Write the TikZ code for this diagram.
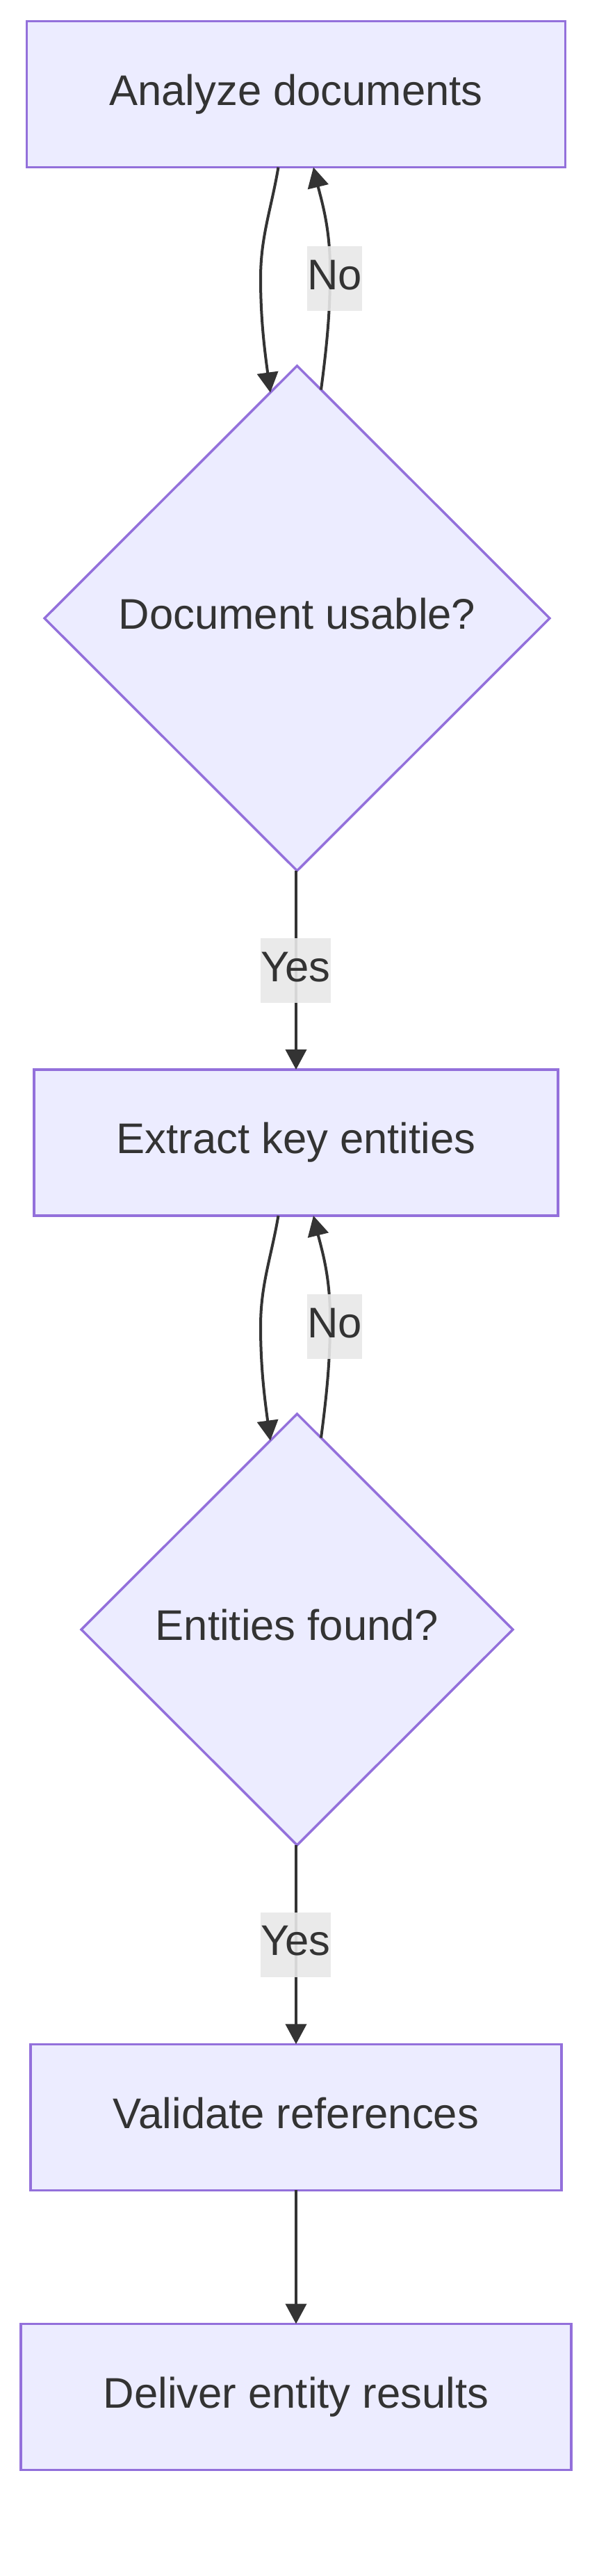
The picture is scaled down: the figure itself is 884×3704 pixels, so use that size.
\documentclass[tikz,border=0pt]{standalone}
\usepackage{fontspec}
\setmainfont{Liberation Sans}
\usetikzlibrary{shapes.geometric,arrows.meta,calc}
\definecolor{nodefill}{HTML}{ECECFF}
\definecolor{nodeline}{HTML}{9370DB}
\definecolor{edgecol}{HTML}{333333}
\definecolor{lblfill}{HTML}{E8E8E8}
\definecolor{txtcol}{HTML}{333333}
\newcommand{\bigfont}{\fontsize{61.6pt}{74pt}\selectfont}
\begin{document}
\begin{tikzpicture}[x=1pt,y=-1pt,
  base/.style={draw=nodeline, fill=nodefill, line width=3.5pt, inner sep=0pt, outer sep=0pt,
    text=txtcol, font=\bigfont, text height=44.4pt, text depth=12.9pt},
  proc/.style={base, rectangle, minimum height=210pt},
  decision/.style={base, diamond, aspect=1},
  lbl/.style={fill=lblfill, fill opacity=0.9, text opacity=1, inner sep=0pt, outer sep=0pt,
    text=txtcol, font=\bigfont, text height=44.4pt, text depth=12.9pt, minimum height=93pt},
  edge/.style={draw=edgecol, line width=4pt, -{Triangle[length=29pt,width=30pt]}}
]
\useasboundingbox (0,0) rectangle (884,3704);
\fill[white] (0,0) rectangle (884,3704);

% nodes
\node[proc, minimum width=775pt] (A) at (426,135.5) {Analyze documents};
\node[decision, minimum width=727pt, minimum height=726pt] (B) at (427.5,889) {Document usable?};
\node[proc, minimum width=754pt] (C) at (426,1643) {Extract key entities};
\node[decision, minimum width=621pt, minimum height=620pt] (D) at (427.5,2343) {Entities found?};
\node[proc, minimum width=764pt] (E) at (426,3044.3) {Validate references};
\node[proc, minimum width=792pt] (F) at (426,3446.5) {Deliver entity results};

% anchor points for the loop edges
\coordinate (a1) at ($(A.south)+(-25.5,0)$);
\coordinate (a2) at ($(A.south)+(25,0)$);
\coordinate (b1) at ($(B.north)+(-38.5,38.5)$);
\coordinate (b2) at ($(B.north)+(34.5,34.5)$);
\coordinate (c1) at ($(C.south)+(-25.5,0)$);
\coordinate (c2) at ($(C.south)+(25,0)$);
\coordinate (d1) at ($(D.north)+(-38.5,38.5)$);
\coordinate (d2) at ($(D.north)+(34.5,34.5)$);

% edges
\draw[edge] (a1) .. controls (390.5,300) and (375,340) .. (375,400)
                 .. controls (375,460) and (381,505) .. (b1);
\draw[edge] (b2) .. controls (470,500) and (475,450) .. (475,395)
                 .. controls (476,330) and (463,290) .. (a2);
\draw[edge] (B.south -| C.north) -- (C.north);
\draw[edge] (c1) .. controls (390.5,1807) and (375,1847) .. (375,1907)
                 .. controls (375,1967) and (381,2012) .. (d1);
\draw[edge] (d2) .. controls (470,2007) and (475,1957) .. (475,1902)
                 .. controls (476,1837) and (463,1797) .. (c2);
\draw[edge] (D.south -| E.north) -- (E.north);
\draw[edge] (E.south) -- (F.north);

% edge labels
\node[lbl, minimum width=77pt] (l1) at (481.5,400.5) {No};
\node[lbl, minimum width=100pt] (l2) at (425.3,1395.8) {Yes};
\node[lbl, minimum width=77pt] (l3) at (481.5,1907.5) {No};
\node[lbl, minimum width=100pt] (l4) at (425.3,2796) {Yes};
\end{tikzpicture}
\end{document}
